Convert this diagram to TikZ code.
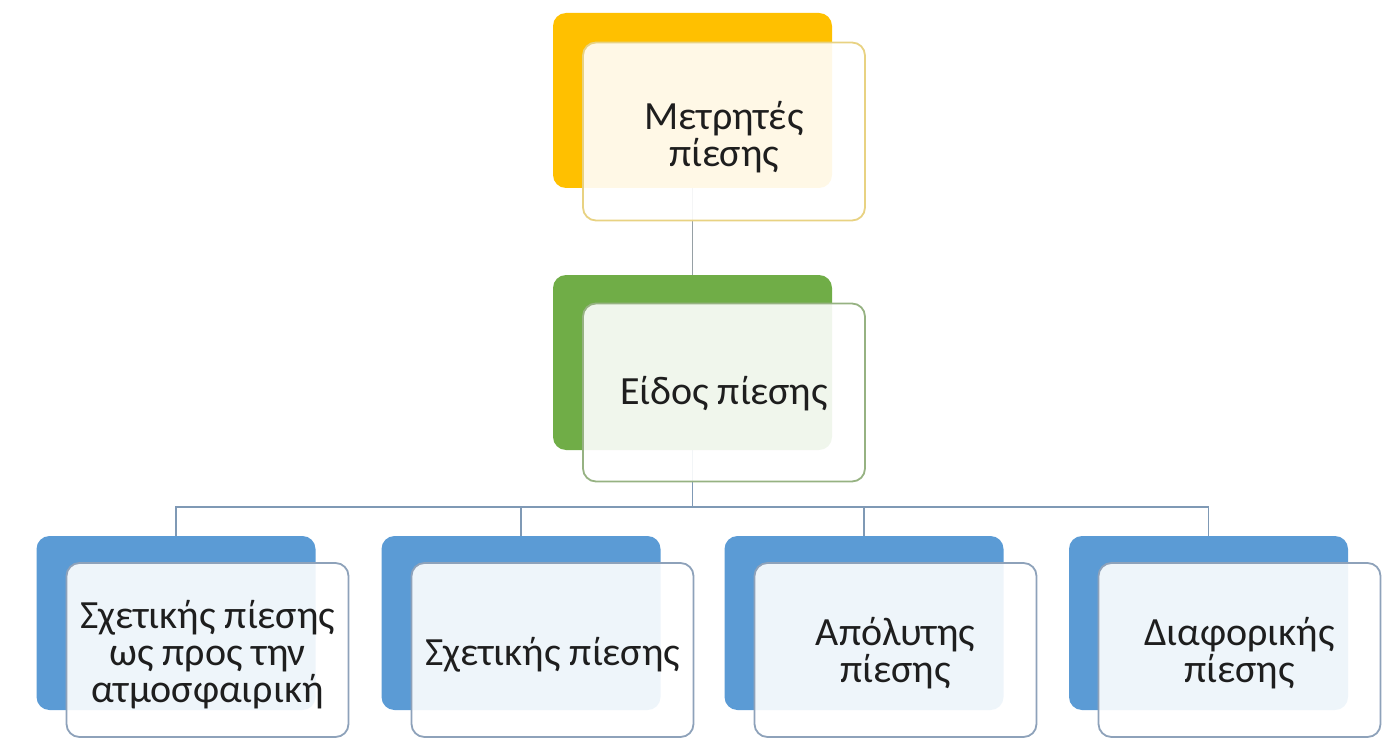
\documentclass[tikz,border=0pt]{standalone}
\usepackage{fontspec}
\setmainfont{Carlito}
\pgfdeclarelayer{bg}
\pgfsetlayers{bg,main}
\definecolor{gold}{RGB}{255,192,0}
\definecolor{goldline}{RGB}{232,210,130}
\definecolor{grn}{RGB}{112,173,71}
\definecolor{grnline}{RGB}{150,178,130}
\definecolor{blu}{RGB}{91,155,213}
\definecolor{bluline}{RGB}{142,162,186}
\definecolor{conn}{RGB}{150,160,165}
\definecolor{connb}{RGB}{127,153,181}
\definecolor{txt}{RGB}{30,30,30}
\tikzset{
  backbox/.style={rounded corners=13pt, minimum width=279pt, minimum height=175pt, inner sep=0pt, outer sep=0pt},
  frontbox/.style={rounded corners=13pt, minimum width=282pt, minimum height=178pt, inner sep=0pt, outer sep=0pt, fill=white, fill opacity=0.9, line width=1.8pt},
  lbl/.style={align=center, text=txt, font=\fontsize{40}{37}\selectfont, inner sep=0pt},
  connector/.style={line width=1.8pt},
}
\begin{document}
\begin{tikzpicture}[x=1pt,y=-1pt]
\useasboundingbox (0,0) rectangle (1399,738);
% top
\node[backbox, fill=gold] (topback) at (692.5,100.5) {};
\node[frontbox, draw=goldline] (topfront) at (724,131.5) {};
\node[lbl] (toptext) at (724,137) {Μετρητές\\πίεσης};
% middle
\node[backbox, fill=grn] (midback) at (692.5,362.5) {};
\node[frontbox, draw=grnline] (midfront) at (724,392.5) {};
\node[lbl] (midtext) at (724,394) {Είδος πίεσης};
% bottom
\node[backbox, fill=blu, minimum height=174pt] (b1back) at (176,623) {};
\node[frontbox, draw=bluline, minimum height=174pt] (b1front) at (207.5,650) {};
\node[lbl] (b1text) at (207.5,655) {Σχετικής πίεσης\\ως προς την\\ατμοσφαιρική};
\node[backbox, fill=blu, minimum height=174pt] (b2back) at (521,623) {};
\node[frontbox, draw=bluline, minimum height=174pt] (b2front) at (552.5,650) {};
\node[lbl] (b2text) at (552.5,655) {Σχετικής πίεσης};
\node[backbox, fill=blu, minimum height=174pt] (b3back) at (864,623) {};
\node[frontbox, draw=bluline, minimum height=174pt] (b3front) at (895.5,650) {};
\node[lbl] (b3text) at (895.5,653) {Απόλυτης\\πίεσης};
\node[backbox, fill=blu, minimum height=174pt] (b4back) at (1208.5,623) {};
\node[frontbox, draw=bluline, minimum height=174pt] (b4front) at (1239.5,650) {};
\node[lbl] (b4text) at (1239.5,653) {Διαφορικής\\πίεσης};
\coordinate (bus) at (692.5,507);
\begin{pgfonlayer}{bg}
\draw[connector, conn] (topback.south) -- (midback.north);
\draw[connector, connb] (midback.south) -- (bus);
\draw[connector, connb] (bus) -| (b1back.north);
\draw[connector, connb] (bus) -| (b2back.north);
\draw[connector, connb] (bus) -| (b3back.north);
\draw[connector, connb] (bus) -| (b4back.north);
\end{pgfonlayer}
\end{tikzpicture}
\end{document}
